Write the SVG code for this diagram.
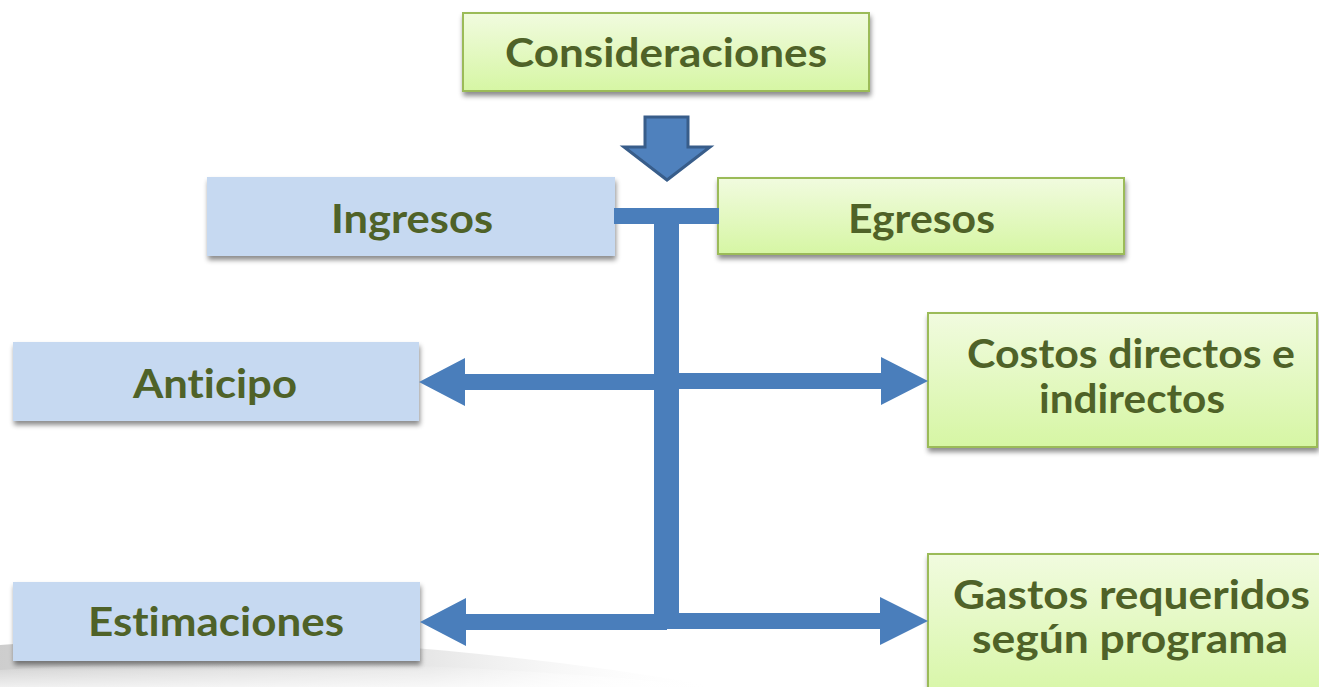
<svg xmlns="http://www.w3.org/2000/svg" width="1319" height="687" viewBox="0 0 1319 687">
<defs>
<linearGradient id="gGreen" x1="0" y1="0" x2="0" y2="1">
<stop offset="0" stop-color="#F1FBDF"/>
<stop offset="1" stop-color="#D6F6A4"/>
</linearGradient>
<linearGradient id="gSwoosh" x1="0" y1="0" x2="1" y2="0">
<stop offset="0" stop-color="#C8C8C8" stop-opacity="0.9"/>
<stop offset="0.6" stop-color="#DDDDDD" stop-opacity="0.7"/>
<stop offset="1" stop-color="#FFFFFF" stop-opacity="0"/>
</linearGradient>
<linearGradient id="gSwoosh2" x1="0" y1="0" x2="0" y2="1">
<stop offset="0" stop-color="#FFFFFF" stop-opacity="0"/>
<stop offset="1" stop-color="#FFFFFF" stop-opacity="0.7"/>
</linearGradient>
<filter id="shadow" x="-5%" y="-10%" width="110%" height="140%">
<feDropShadow dx="1" dy="4" stdDeviation="2.5" flood-color="#000" flood-opacity="0.45"/>
</filter>
</defs>
<style>
.blue{fill:#C6D9F1;filter:url(#shadow)}
.green{fill:url(#gGreen);stroke:#9BBB59;stroke-width:2;filter:url(#shadow)}
.t{font-family:Lato,"Open Sans","Liberation Sans",sans-serif;font-weight:bold;font-size:40px;fill:#4F6228;text-anchor:start;font-variant-ligatures:none;font-feature-settings:"liga" 0,"dlig" 0}
.conn{fill:#4A7EBB}
</style>
<path d="M0,645 C200,630 450,640 720,687 L0,687 Z" fill="url(#gSwoosh)"/>
<path d="M0,670 C250,655 500,665 720,687 L0,687 Z" fill="url(#gSwoosh2)"/>

<g id="consideraciones">
<rect class="green" x="463" y="13" width="406" height="78"/>
<text class="t" x="505" y="67" textLength="322" lengthAdjust="spacingAndGlyphs">Consideraciones</text>
</g>

<g id="ingresos">
<rect class="blue" x="207" y="177" width="408" height="79"/>
<text class="t" x="331" y="233" textLength="162" lengthAdjust="spacingAndGlyphs">Ingresos</text>
</g>

<g id="egresos">
<rect class="green" x="718" y="178" width="406" height="76"/>
<text class="t" x="848" y="233" textLength="147" lengthAdjust="spacingAndGlyphs">Egresos</text>
</g>

<g id="anticipo">
<rect class="blue" x="13" y="342" width="406" height="79"/>
<text class="t" x="133" y="398" textLength="164" lengthAdjust="spacingAndGlyphs">Anticipo</text>
</g>

<g id="costos">
<rect class="green" x="928" y="313" width="389" height="134"/>
<text class="t" x="967" y="368" textLength="328" lengthAdjust="spacingAndGlyphs">Costos directos e</text>
<text class="t" x="1039" y="413" textLength="186" lengthAdjust="spacingAndGlyphs">indirectos</text>
</g>

<g id="estimaciones">
<rect class="blue" x="13" y="582" width="407" height="79"/>
<text class="t" x="88" y="636" textLength="256" lengthAdjust="spacingAndGlyphs">Estimaciones</text>
</g>

<g id="gastos">
<rect class="green" x="928" y="554" width="400" height="150"/>
<text class="t" x="953" y="609" textLength="357" lengthAdjust="spacingAndGlyphs">Gastos requeridos</text>
<text class="t" x="972" y="653" textLength="316" lengthAdjust="spacingAndGlyphs">según programa</text>
</g>

<g id="connectors">
<polygon points="645,117 688,117 688,147 710,147 667,180 624,147 645,147" fill="#4F81BD" stroke="#385D8A" stroke-width="3" stroke-linejoin="miter"/>
<rect class="conn" x="614" y="208" width="105" height="16"/>
<rect class="conn" x="654" y="208" width="25" height="421"/>
<polygon class="conn" points="419,382 465,358 465,374 667,374 667,390 465,390 465,406"/>
<polygon class="conn" points="928,381 881,357 881,373 667,373 667,389 881,389 881,405"/>
<polygon class="conn" points="420,622 466,598 466,614 667,614 667,630 466,630 466,646"/>
<polygon class="conn" points="928,621 880,597 880,613 667,613 667,629 880,629 880,645"/>
</g>
</svg>
